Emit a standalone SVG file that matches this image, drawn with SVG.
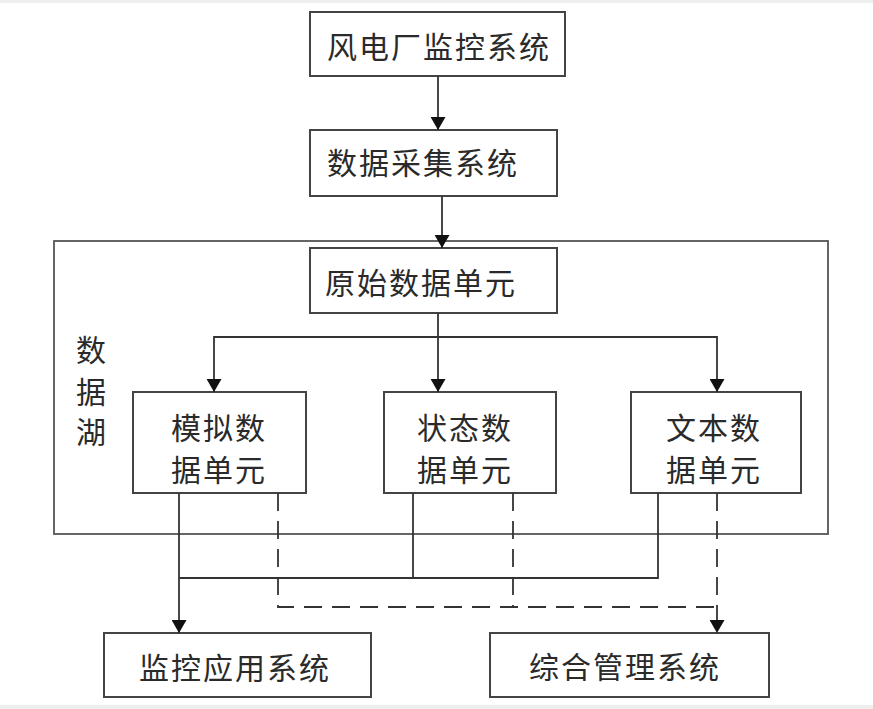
<svg xmlns="http://www.w3.org/2000/svg" width="873" height="709" viewBox="0 0 873 709">
<style>
.box{fill:#fff;stroke:#444;stroke-width:2}
.lake{fill:none;stroke:#555;stroke-width:1.8}
.t{font-family:"Noto Sans CJK SC","Noto Sans",sans-serif;font-size:30px;fill:#2a2a2a;dominant-baseline:central;letter-spacing:2px}
.c{fill:none;stroke:#333;stroke-width:1.8}
.d{stroke-dasharray:18 10}
</style>
<defs>
<marker id="ah" markerUnits="userSpaceOnUse" markerWidth="15" markerHeight="15" refX="13" refY="7.5" orient="auto">
<path d="M0,0 L13,7.5 L0,15 z" fill="#111"/>
</marker>
</defs>
<rect x="0" y="0" width="873" height="709" fill="#fff"/>
<rect x="0" y="0" width="873" height="3" fill="#eee"/>
<rect x="0" y="705" width="873" height="4" fill="#eee"/>

<g id="lake">
<rect class="lake" x="54" y="241" width="774" height="293"/>
<text class="t" x="76" y="348">数</text>
<text class="t" x="76" y="390">据</text>
<text class="t" x="76" y="430">湖</text>
</g>

<g id="n1"><rect class="box" x="310" y="12" width="255" height="64"/><text class="t" x="327" y="45">风电厂监控系统</text></g>
<g id="n2"><rect class="box" x="310" y="130" width="247" height="66"/><text class="t" x="327" y="161">数据采集系统</text></g>
<g id="n3"><rect class="box" x="310" y="248" width="247" height="65"/><text class="t" x="325" y="281">原始数据单元</text></g>
<g id="n4"><rect class="box" x="133" y="392" width="173" height="101"/><text class="t" x="171" y="426">模拟数</text><text class="t" x="171" y="468">据单元</text></g>
<g id="n5"><rect class="box" x="384" y="392" width="172" height="101"/><text class="t" x="417" y="426">状态数</text><text class="t" x="417" y="468">据单元</text></g>
<g id="n6"><rect class="box" x="631" y="392" width="170" height="101"/><text class="t" x="666" y="426">文本数</text><text class="t" x="666" y="468">据单元</text></g>
<g id="n7"><rect class="box" x="104" y="633" width="267" height="64"/><text class="t" x="139" y="666">监控应用系统</text></g>
<g id="n8"><rect class="box" x="490" y="633" width="279" height="64"/><text class="t" x="529" y="665">综合管理系统</text></g>

<g id="connectors">
<path class="c" d="M438,76 V130" marker-end="url(#ah)"/>
<path class="c" d="M442,196 V248" marker-end="url(#ah)"/>
<path class="c" d="M438,313 V392" marker-end="url(#ah)"/>
<path class="c" d="M438,337 H214 V392" marker-end="url(#ah)"/>
<path class="c" d="M438,337 H717 V392" marker-end="url(#ah)"/>
<path class="c" d="M179,493 V633" marker-end="url(#ah)"/>
<path class="c" d="M413,493 V578"/>
<path class="c" d="M658,493 V578 H179"/>
<path class="c d" d="M278,493 V607 H717"/>
<path class="c d" d="M513,493 V607"/>
<path class="c d" d="M717,493 V633" marker-end="url(#ah)"/>
</g>
</svg>
